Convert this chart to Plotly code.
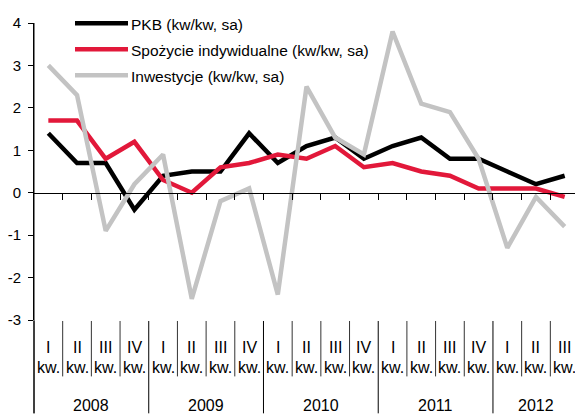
import plotly.graph_objects as go

# ---------------- data ----------------
quarters = ['I', 'II', 'III', 'IV', 'I', 'II', 'III', 'IV', 'I', 'II', 'III', 'IV',
            'I', 'II', 'III', 'IV', 'I', 'II', 'III']
quarter_suffix = 'kw.'
years = ['2008', '2009', '2010', '2011', '2012']
year_counts = [4, 4, 4, 4, 3]

pkb = [1.4, 0.7, 0.7, -0.4, 0.4, 0.5, 0.5, 1.4, 0.7, 1.1, 1.3, 0.8,
       1.1, 1.3, 0.8, 0.8, 0.5, 0.2, 0.4]
spozycie = [1.7, 1.7, 0.8, 1.2, 0.3, 0.0, 0.6, 0.7, 0.9, 0.8, 1.1, 0.6,
            0.7, 0.5, 0.4, 0.1, 0.1, 0.1, -0.1]
inwestycje = [3.0, 2.3, -0.9, 0.2, 0.9, -2.5, -0.2, 0.1, -2.4, 2.5, 1.3, 0.9,
              3.8, 2.1, 1.9, 0.8, -1.3, -0.1, -0.8]

series_names = ['PKB (kw/kw, sa)', 'Spożycie indywidualne (kw/kw, sa)', 'Inwestycje (kw/kw, sa)']
y_ticks = [-3, -2, -1, 0, 1, 2, 3, 4]

# ---------------- layout constants ----------------
W, H = 575, 414
ML, MR, MT = 34, 0, 23
PLOT_BOTTOM = 320.5          # pixel of y = -3
MB = H - PLOT_BOTTOM
PH = PLOT_BOTTOM - MT
XMIN, XMAX = -0.5, 18.36
FONT = 'Liberation Sans, Arial, sans-serif'
colors = ['#000000', '#E2183A', '#C3C3C3']
LW = 4.5


def py(pixel):
    """pixel row -> paper y"""
    return (PLOT_BOTTOM - pixel) / PH


def pxp(v):
    """data x -> paper x"""
    return (v - XMIN) / (XMAX - XMIN)


def pxx(pixel):
    """pixel column -> paper x"""
    return (pixel - ML) / (W - ML - MR)


xs = list(range(len(quarters)))

fig = go.Figure()
for name, vals, col in zip(series_names, [pkb, spozycie, inwestycje], colors):
    fig.add_trace(go.Scatter(x=xs, y=vals, mode='lines', name=name,
                             line=dict(color=col, width=LW), showlegend=False,
                             cliponaxis=False))

shapes = []
annotations = []

# legend drawn manually (long line samples)
leg_rows = [23.3, 49.3, 75.3]
for name, col, row in zip(series_names, colors, leg_rows):
    shapes.append(dict(type='line', xref='paper', yref='paper',
                       x0=pxx(75), x1=pxx(128), y0=py(row), y1=py(row),
                       line=dict(color=col, width=LW)))
    annotations.append(dict(xref='paper', yref='paper', x=pxx(129), y=py(row + 1.5),
                            text=name, showarrow=False, xanchor='left', yanchor='middle',
                            font=dict(family=FONT, size=15.5, color='#000000')))

# category separators below plot
boundaries_year = []
pos = -0.5
for c in year_counts:
    boundaries_year.append(pos)
    pos += c
for k in range(len(quarters)):
    b = k - 0.5
    is_year = b in boundaries_year
    shapes.append(dict(type='line', xref='paper', yref='paper',
                       x0=pxp(b), x1=pxp(b), y0=py(321.5),
                       y1=py(H if is_year else 377),
                       line=dict(color='#000000' if is_year else '#333333', width=1)))
# y axis line extension
shapes.append(dict(type='line', xref='paper', yref='paper', x0=0, x1=0,
                   y0=1, y1=py(H), line=dict(color='#000000', width=1)))

# quarter labels
for k, q in enumerate(quarters):
    annotations.append(dict(xref='x', yref='paper', x=k, y=py(348), text=q,
                            showarrow=False, xanchor='center', yanchor='middle',
                            font=dict(family=FONT, size=16, color='#000000')))
    annotations.append(dict(xref='x', yref='paper', x=k, y=py(368.5), text=quarter_suffix,
                            showarrow=False, xanchor='center', yanchor='middle',
                            font=dict(family=FONT, size=16, color='#000000')))

# year labels
start = 0
for yr, c in zip(years, year_counts):
    center = start + (c - 1) / 2
    annotations.append(dict(xref='x', yref='paper', x=center, y=py(406), text=yr,
                            showarrow=False, xanchor='center', yanchor='middle',
                            font=dict(family=FONT, size=16, color='#000000')))
    start += c

fig.update_layout(
    width=W, height=H,
    margin=dict(l=ML, r=MR, t=MT, b=MB, autoexpand=False, pad=0),
    paper_bgcolor='white', plot_bgcolor='white',
    showlegend=False,
    xaxis=dict(range=[XMIN, XMAX], anchor='free', position=3 / 7,
               showline=True, linecolor='#000000', linewidth=1,
               tickmode='array', tickvals=[k - 0.5 for k in range(1, len(quarters))],
               ticks='outside', ticklen=6, tickcolor='#000000', tickwidth=1,
               showticklabels=False, showgrid=False, zeroline=False, fixedrange=True),
    yaxis=dict(range=[-3, 4], tickmode='array', tickvals=y_ticks,
               ticktext=[str(t) for t in y_ticks],
               showline=True, linecolor='#000000', linewidth=1,
               ticks='outside', ticklen=5, tickcolor='#000000',
               showgrid=False, zeroline=False,
               tickfont=dict(family=FONT, size=15, color='#000000'),
               ticklabelstandoff=4, fixedrange=True),
    shapes=shapes, annotations=annotations,
)

fig.write_html('out.html', config={'displayModeBar': False},
               post_script="document.body.style.margin='0';document.body.style.padding='0';"
                           "document.body.style.overflow='hidden';")
